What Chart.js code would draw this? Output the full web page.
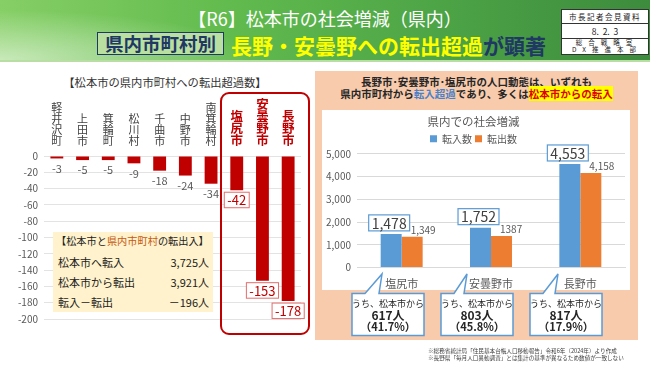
<!DOCTYPE html>
<html lang="ja">
<head>
<meta charset="utf-8">
<script src="https://cdn.jsdelivr.net/npm/chart.js@4.4.1/dist/chart.umd.min.js"></script>
<style>
  body { margin:0; width:650px; height:365px; position:relative; overflow:hidden; background:#fff;
         font-family:"Noto Sans CJK JP", "Noto Sans", sans-serif; color:#262626; }
  .abs { position:absolute; }
  #header { left:0; top:0; width:650px; height:60px;
    background:
      radial-gradient(ellipse 260px 50px at 0% 100%, rgba(255,255,255,0.55), rgba(255,255,255,0) 100%),
      linear-gradient(90deg, #86cf66 0%, #62bb4e 35%, #4ea647 65%, #3d8b3d 100%); }
  #hline { left:0; top:60px; width:650px; height:2px; background:#b9dea4; }
  #title1 { left:0; top:7px; width:650px; text-align:center; color:#fff; font-size:18px; line-height:22px; }
  #tagbox { left:97px; top:32px; width:125px; height:21px; border:1.5px solid #203864; background:#b9e0a0;
            color:#1f3864; font-size:18.5px; font-weight:bold; line-height:21px; text-align:center; }
  #title2 { left:231px; top:32px; font-size:21px; font-weight:bold; line-height:26px; color:#ffff00; white-space:nowrap; }
  #title2 span { color:#1f3864; }
  #stamp { left:561px; top:9px; width:86px; border:1px solid #333; background:#fff; font-size:7.5px; color:#222; }
  #stamp div { text-align:center; border-bottom:1px solid #333; }
  #stamp div:last-child { border-bottom:none; }
  #leftTitle { left:0; top:75px; width:330px; text-align:center; font-size:11.3px; line-height:15px; color:#333; }
  #leftWrap { left:0; top:95px; width:310px; height:240px; }
  #redFrame { left:220px; top:92px; width:86px; height:239px; border:2px solid #c00000; border-radius:9px; }
  #inset { left:53px; top:232px; width:160px; height:80px; background:#fff2cc; font-size:11px; color:#222; }
  #inset .r { position:absolute; left:5px; right:4px; height:14px; line-height:14px; white-space:nowrap; }
  #inset .r b { position:absolute; right:0; font-weight:normal; }
  #panel { left:315px; top:71px; width:323px; height:269px; background:#f8cbad; }
  #panelHead { left:315px; top:76px; width:323px; text-align:center; font-size:10.5px; font-weight:bold;
               line-height:12px; color:#262626; }
  #panelHead .bl { color:#4a80c8; }
  #panelHead .hl { color:#e00000; background:#ffff00; }
  #rightWrap { left:322px; top:110px; width:308px; height:180px; background:#fff; }
  #notes { left:428px; top:348px; font-size:5.6px; line-height:7px; color:#404040; white-space:nowrap; }
</style>
</head>
<body>
<div id="header" class="abs"></div>
<div id="hline" class="abs"></div>
<div id="title1" class="abs">【R6】松本市の社会増減（県内）</div>
<div id="tagbox" class="abs">県内市町村別</div>
<div id="title2" class="abs">長野・安曇野への転出超過<span>が顕著</span></div>
<div id="stamp" class="abs">
  <div style="letter-spacing:1.5px;height:13px;line-height:13px;">市長記者会見資料</div>
  <div style="font-size:8.5px;height:14px;line-height:14px;">8.&nbsp; 2.&nbsp; 3</div>
  <div style="font-size:6.5px;line-height:7.3px;letter-spacing:6px;padding-left:4px;">総合戦略室<br>DX推進本部</div>
</div>

<div id="leftTitle" class="abs">【松本市の県内市町村への転出超過数】</div>
<div id="leftWrap" class="abs"><canvas id="leftChart"></canvas></div>
<div id="redFrame" class="abs"></div>
<div id="inset" class="abs">
  <div class="r" style="top:2px;font-size:10.2px;left:3px;">【松本市と<span style="color:#c55a11">県内市町村</span>の転出入】</div>
  <div class="r" style="top:23px;">松本市へ転入<b id="v0"></b></div>
  <div class="r" style="top:43px;">松本市から転出<b id="v1"></b></div>
  <div class="r" style="top:63px;">転入－転出<b id="v2"></b></div>
</div>

<div id="panel" class="abs"></div>
<div id="panelHead" class="abs">長野市･安曇野市･塩尻市の人口動態は、いずれも<br>県内市町村から<span class="bl">転入超過</span>であり、多くは<span class="hl">松本市からの転入</span></div>
<div id="rightWrap" class="abs"><canvas id="rightChart"></canvas></div>
<svg class="abs" id="callouts" style="left:0;top:0;" width="650" height="365"></svg>

<div id="notes" class="abs">※総務省統計局「住民基本台帳人口移動報告」令和6年（2024年）より作成<br>※長野県「毎月人口異動調査」とは集計の基準が異なるため数値が一致しない</div>

<script>
// left chart data
const cities = ['軽井沢町', '上田市', '箕輪町', '松川村', '千曲市', '中野市', '南箕輪村', '塩尻市', '安曇野市', '長野市'];
const outflowExcess = [-3, -5, -5, -9, -18, -24, -34, -42, -153, -178];
const highlightCities = ['塩尻市', '安曇野市', '長野市'];

// inset totals
const totalIn = 3725;
const totalOut = 3921;

// right chart data
const targetCities = ['塩尻市', '安曇野市', '長野市'];
const transferIn = [1478, 1752, 4553];
const transferOut = [1349, 1387, 4158];
const transferOutText = ['1,349', '1387', '4,158'];
const fromMatsumoto = [617, 803, 817];
const fromMatsumotoShare = ['41.7%', '45.8%', '17.9%'];

const FONT = '"Noto Sans CJK JP", "Noto Sans", sans-serif';
Chart.defaults.font.family = FONT;

const fmt = v => v.toLocaleString('en-US');
document.getElementById('v0').textContent = fmt(totalIn) + '人';
document.getElementById('v1').textContent = fmt(totalOut) + '人';
document.getElementById('v2').textContent = '－' + fmt(totalOut - totalIn) + '人';

const isHl = i => highlightCities.includes(cities[i]);

// value labels under the left bars
const leftLabels = {
    id: 'leftLabels',
    afterDatasetsDraw(chart) {
        const ctx = chart.ctx;
        chart.getDatasetMeta(0).data.forEach((bar, i) => {
            const txt = String(outflowExcess[i]);
            ctx.save();
            ctx.textAlign = 'center';
            ctx.textBaseline = 'middle';
            if (isHl(i)) {
                ctx.font = '13px ' + FONT;
                const w = ctx.measureText(txt).width + 6;
                const h = 15.5;
                const top = bar.y + 2;
                ctx.fillStyle = '#fff';
                ctx.fillRect(bar.x - w / 2, top, w, h);
                ctx.strokeStyle = '#e46c6c';
                ctx.lineWidth = 1;
                ctx.strokeRect(bar.x - w / 2, top, w, h);
                ctx.fillStyle = '#c00000';
                ctx.fillText(txt, bar.x, top + h / 2 + 0.5);
            } else {
                ctx.font = '11px ' + FONT;
                ctx.fillStyle = '#595959';
                ctx.fillText(txt, bar.x, bar.y + 10);
            }
            ctx.restore();
        });
    }
};

new Chart(document.getElementById('leftChart'), {
    type: 'bar',
    data: {
        labels: cities.map(c => c.split('')),
        datasets: [{
            data: outflowExcess,
            backgroundColor: '#c00000',
            categoryPercentage: 0.5,
            barPercentage: 1.0
        }]
    },
    options: {
        responsive: true,
        maintainAspectRatio: false,
        animation: false,
        layout: { padding: { left: 0, right: 9, top: 0, bottom: 16 } },
        plugins: { legend: { display: false }, tooltip: { enabled: false } },
        scales: {
            x: {
                position: 'top',
                grid: { display: false },
                border: { display: false },
                ticks: {
                    autoSkip: false,
                    maxRotation: 0,
                    padding: 2,
                    color: c => isHl(c.index) ? '#c00000' : '#404040',
                    font: c => isHl(c.index)
                        ? { size: 12.5, weight: 'bold', lineHeight: 0.95 }
                        : { size: 11, lineHeight: 0.98 }
                },
                afterFit: s => { s.height = 61; }
            },
            y: {
                min: -200,
                max: 0,
                grid: { color: '#e3e3e3', drawTicks: false },
                border: { display: false },
                ticks: { stepSize: 20, padding: 6, color: '#595959', font: { size: 10 } },
                afterFit: s => { s.width = 44; }
            }
        }
    },
    plugins: [leftLabels]
});

// value labels above the right bars
const rightLabels = {
    id: 'rightLabels',
    afterDatasetsDraw(chart) {
        const ctx = chart.ctx;
        const boxRight = [];
        ctx.save();
        ctx.textAlign = 'center';
        ctx.textBaseline = 'middle';
        chart.getDatasetMeta(0).data.forEach((bar, i) => {
            const txt = fmt(transferIn[i]);
            ctx.font = '14px ' + FONT;
            const w = ctx.measureText(txt).width + 6;
            const h = 16;
            const cx = bar.x - 2;
            const top = bar.y - 3 - h;
            ctx.fillStyle = '#fff';
            ctx.fillRect(cx - w / 2, top, w, h);
            ctx.strokeStyle = '#5b9bd5';
            ctx.lineWidth = 1.2;
            ctx.strokeRect(cx - w / 2, top, w, h);
            ctx.fillStyle = '#404040';
            ctx.fillText(txt, cx, top + h / 2 + 0.5);
            boxRight[i] = { right: cx + w / 2, top: top, bottom: top + h };
        });
        chart.getDatasetMeta(1).data.forEach((bar, i) => {
            const txt = transferOutText[i];
            ctx.font = '10px ' + FONT;
            const tw = ctx.measureText(txt).width;
            const y = bar.y - 7;
            let x = bar.x + 3;
            const b = boxRight[i];
            if (y > b.top - 6 && y < b.bottom + 6) x = Math.max(x, b.right + tw / 2 + 1);
            ctx.fillStyle = '#595959';
            ctx.fillText(txt, x, y);
        });
        ctx.restore();
    }
};

new Chart(document.getElementById('rightChart'), {
    type: 'bar',
    data: {
        labels: targetCities,
        datasets: [
            { label: '転入数', data: transferIn, backgroundColor: '#5b9bd5', categoryPercentage: 0.47, barPercentage: 1.0 },
            { label: '転出数', data: transferOut, backgroundColor: '#ed7d31', categoryPercentage: 0.47, barPercentage: 1.0 }
        ]
    },
    options: {
        responsive: true,
        maintainAspectRatio: false,
        animation: false,
        layout: { padding: { left: 0, right: 5, top: 0, bottom: 0 } },
        plugins: {
            title: {
                display: true,
                text: '県内での社会増減',
                color: '#595959',
                font: { size: 11.5, weight: 'normal' },
                padding: { top: 5, bottom: 2 }
            },
            legend: {
                position: 'top',
                labels: { boxWidth: 7, boxHeight: 7, padding: 3, color: '#595959', font: { size: 10 } }
            },
            tooltip: { enabled: false }
        },
        scales: {
            x: {
                grid: { display: false },
                border: { color: '#d9d9d9' },
                ticks: { color: '#595959', font: { size: 11 }, padding: 2 },
                afterFit: s => { s.height = 22.5; }
            },
            y: {
                min: 0,
                max: 5000,
                grid: { color: '#d9d9d9', drawTicks: false },
                border: { display: false },
                ticks: { stepSize: 1000, padding: 6, color: '#595959', font: { size: 10 }, callback: v => fmt(v) },
                afterFit: s => { s.width = 35; }
            }
        }
    },
    plugins: [rightLabels]
});

// callout bubbles under the right chart
const svg = document.getElementById('callouts');
const boxLefts = [352, 441, 530];
const apexX = [382, 467, 558];
let svgHtml = '';
fromMatsumoto.forEach((n, i) => {
    const l = boxLefts[i], r = l + 72, t = 293.5, b = 335.5;
    svgHtml += `<path d="M${l},${t} L${l + 13},${t} L${apexX[i]},274 L${apexX[i] - 3},${t} L${r},${t} L${r},${b} L${l},${b} Z"
        fill="#fff" stroke="#5b9bd5" stroke-width="1.5"/>`;
    const cx = l + 36;
    svgHtml += `<text x="${cx}" y="307" font-size="9" text-anchor="middle" fill="#262626" font-family='${FONT}'>うち、松本市から</text>`;
    svgHtml += `<text x="${cx}" y="319.5" font-size="12" font-weight="bold" text-anchor="middle" fill="#262626" font-family='${FONT}'>${n}人</text>`;
    svgHtml += `<text x="${cx}" y="330.5" font-size="11" font-weight="bold" text-anchor="middle" fill="#262626" font-family='${FONT}'>（${fromMatsumotoShare[i]}）</text>`;
});
svg.innerHTML = svgHtml;
</script>
</body>
</html>
